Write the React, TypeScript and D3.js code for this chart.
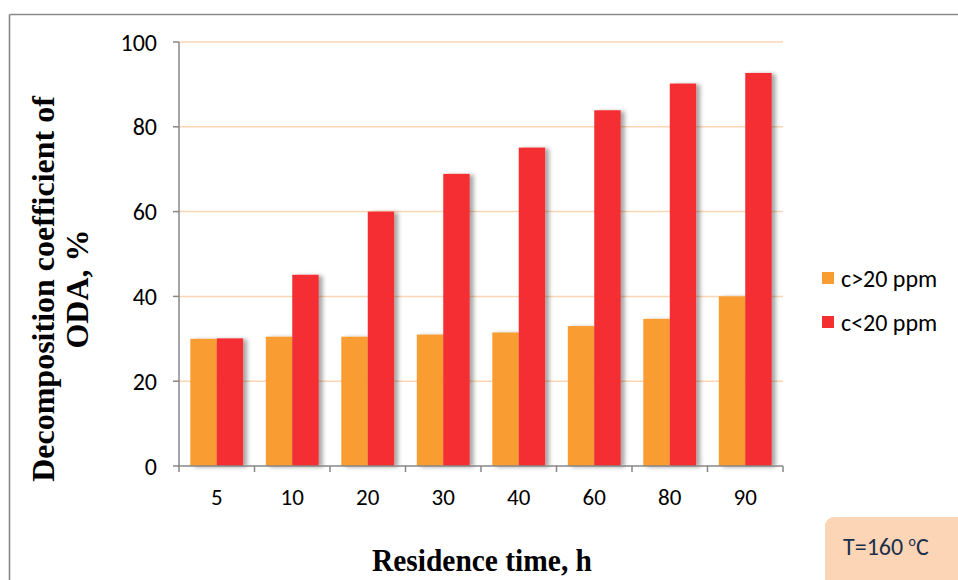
import React from "react";
import * as d3 from "d3";

const categories = ["5", "10", "20", "30", "40", "60", "80", "90"];
const seriesNames = ["c>20 ppm", "c<20 ppm"];
const seriesHigh = [30, 30.5, 30.5, 31, 31.5, 33, 34.7, 40];
const seriesLow = [30.1, 45.1, 60, 68.9, 75.1, 83.9, 90.2, 92.7];
const yTicks = [0, 20, 40, 60, 80, 100];
const colors = ["#F99D32", "#F42F30"];

const W = 958;
const H = 580;
const left = 179;
const right = 783;
const top = 42;
const bottom = 466;

export default function App() {
  const x = d3.scaleBand<string>().domain(categories).range([left, right]).paddingInner(0.3).paddingOuter(0.15);
  const xi = d3.scaleBand<string>().domain(seriesNames).range([0, x.bandwidth()]).padding(0);
  const y = d3.scaleLinear().domain([0, 100]).range([bottom, top]);
  const series = [seriesHigh, seriesLow];
  const boundaries = d3.range(categories.length + 1).map((i) => left + i * x.step());
  const sans = "Carlito, Lato, 'Open Sans', sans-serif";
  const serif = "'Liberation Serif', 'DejaVu Serif', serif";

  return (
    <svg width={W} height={H} style={{ position: "absolute", left: 0, top: 0, background: "#fff" }}>
      <defs>
        <filter id="sh" x="-20%" y="-10%" width="160%" height="130%">
          <feDropShadow dx="4" dy="1" stdDeviation="2" floodColor="#000" floodOpacity="0.35" />
        </filter>
      </defs>
      {/* frame */}
      <line x1={9.5} y1={14.5} x2={W} y2={14.5} stroke="#8a8a8a" strokeWidth={1.6} />
      <line x1={9.5} y1={14.5} x2={9.5} y2={H} stroke="#8a8a8a" strokeWidth={1.6} />

      {/* gridlines */}
      {yTicks.filter((t) => t > 0).map((t) => (
        <line key={t} x1={left} x2={right} y1={y(t)} y2={y(t)} stroke="#FCD5B4" strokeWidth={1.5} />
      ))}

      {/* bars */}
      {series.map((vals, si) =>
        categories.map((c, i) => (
          <rect
            key={si + "-" + c}
            x={(x(c) as number) + (xi(seriesNames[si]) as number)}
            y={y(vals[i])}
            width={xi.bandwidth()}
            height={y(0) - y(vals[i])}
            fill={colors[si]}
            filter="url(#sh)"
          />
        ))
      )}

      {/* axes */}
      <line x1={left} x2={left} y1={top} y2={bottom} stroke="#878787" strokeWidth={1.5} />
      <line x1={left} x2={right} y1={bottom} y2={bottom} stroke="#878787" strokeWidth={1.5} />
      {yTicks.map((t) => (
        <g key={t}>
          <line x1={left - 6} x2={left} y1={y(t)} y2={y(t)} stroke="#878787" strokeWidth={1.5} />
          <text x={157} y={y(t)} dy="0.36em" textAnchor="end" fontFamily={sans} fontSize={24} fill="#000">
            {t}
          </text>
        </g>
      ))}
      {boundaries.map((bx, i) => (
        <line key={i} x1={bx} x2={bx} y1={bottom} y2={bottom + 6} stroke="#878787" strokeWidth={1.5} />
      ))}
      {categories.map((c) => (
        <text key={c} x={(x(c) as number) + x.bandwidth() / 2} y={497} dy="0.36em" textAnchor="middle" fontFamily={sans} fontSize={23} fill="#000">
          {c}
        </text>
      ))}

      {/* axis titles */}
      <g transform="translate(54,289) rotate(-90)">
        <text textAnchor="middle" fontFamily={serif} fontWeight="bold" fontSize={32} fill="#000">
          Decomposition coefficient of
        </text>
      </g>
      <g transform="translate(88,289) rotate(-90)">
        <text textAnchor="middle" fontFamily={serif} fontWeight="bold" fontSize={32} fill="#000">
          ODA, %
        </text>
      </g>
      <text x={482} y={571} textAnchor="middle" fontFamily={serif} fontWeight="bold" fontSize={31} fill="#000" textLength={220} lengthAdjust="spacingAndGlyphs">
        Residence time, h
      </text>

      {/* legend */}
      {seriesNames.map((n, i) => (
        <g key={n} transform={`translate(822,${272 + i * 44})`}>
          <rect width={12} height={12} fill={colors[i]} />
          <text x={19} y={6} dy="0.36em" fontFamily={sans} fontSize={24} fill="#000">
            {n}
          </text>
        </g>
      ))}

      {/* annotation */}
      <rect x={825} y={517} width={150} height={90} rx={9} fill="#FBD5B5" />
      <text x={843} y={546} dy="0.36em" fontFamily={sans} fontSize={24} fill="#1B2F4B">
        T=160 <tspan dy="-9" fontSize={14}>o</tspan>
        <tspan dy="9">C</tspan>
      </text>
    </svg>
  );
}
